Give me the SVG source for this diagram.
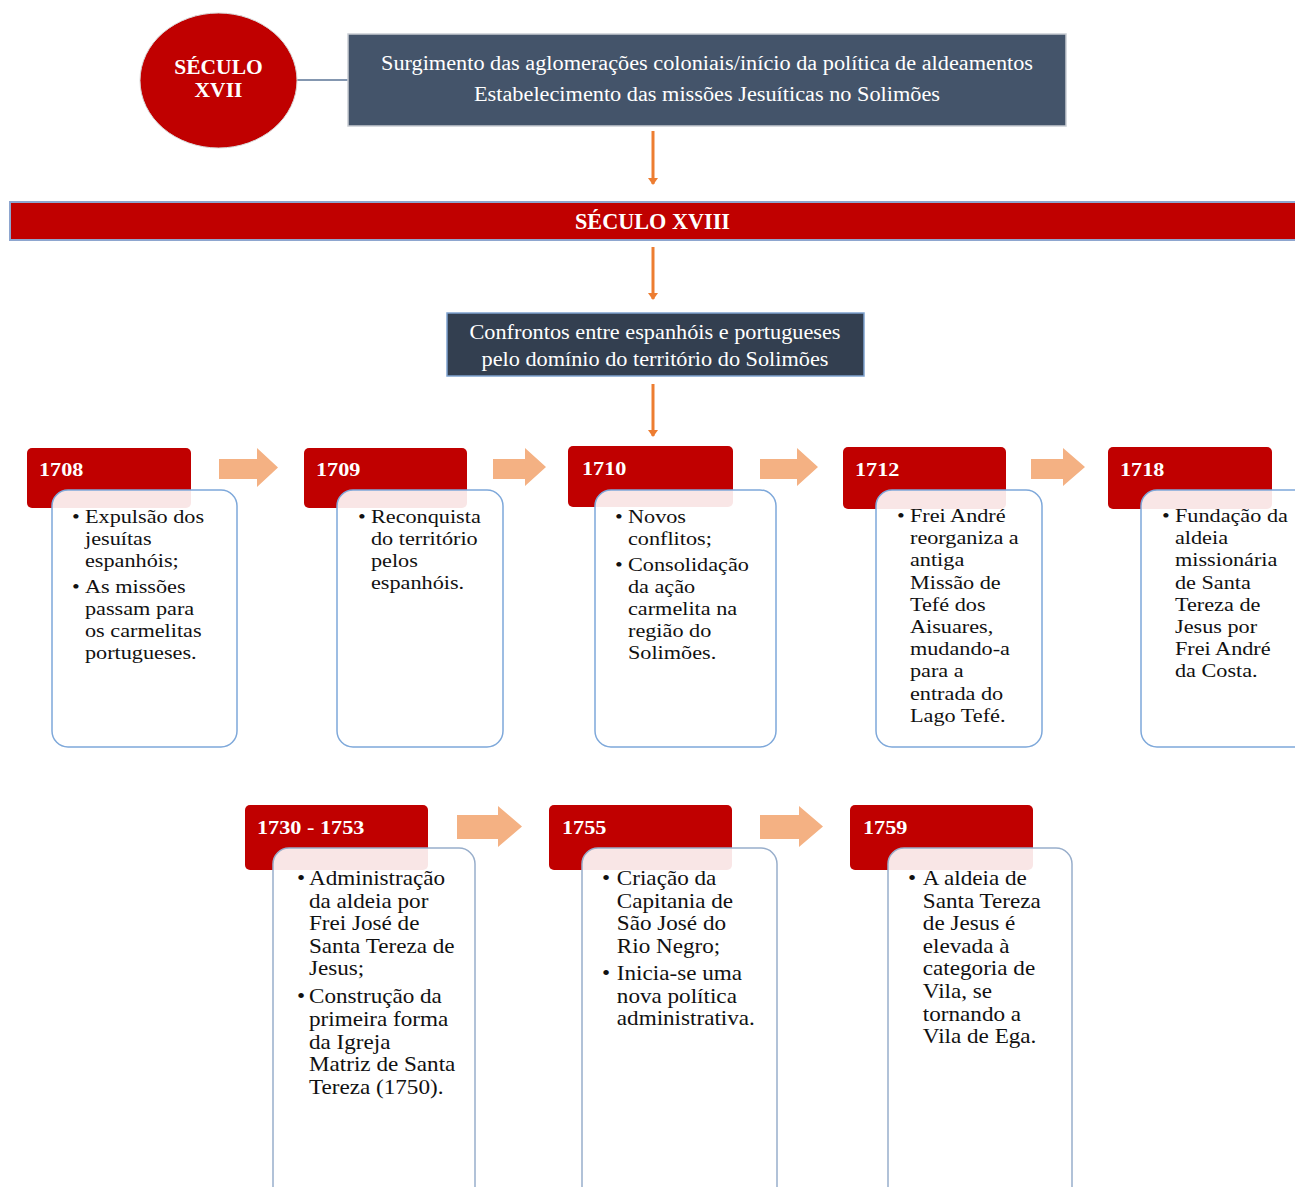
<svg xmlns="http://www.w3.org/2000/svg" width="1295" height="1187" viewBox="0 0 1295 1187">
<style>
.hdr{fill:#C00000}
.card1{fill:#FFFFFF;fill-opacity:0.9;stroke:#7EA8DA;stroke-width:1.5}
.card2{fill:#FFFFFF;fill-opacity:0.9;stroke:#98AECB;stroke-width:1.5}
.yr{font-family:"Liberation Serif","Times New Roman",serif;font-weight:bold;font-size:19.5px;fill:#FFFFFF}
.ct{font-family:"Liberation Serif","Times New Roman",serif;font-size:19.5px;fill:#111111}
.ct2{font-family:"Liberation Serif","Times New Roman",serif;font-size:20.3px;fill:#111111}
.wt{font-family:"Liberation Serif","Times New Roman",serif;fill:#FFFFFF}
.blk{fill:#F4B183}
.oline{stroke:#ED7D31;stroke-width:3;fill:none}
</style>
<defs>
<marker id="oh" markerWidth="10" markerHeight="10" refX="6" refY="5" orient="auto" markerUnits="userSpaceOnUse">
<path d="M0,0 L7,5 L0,10 z" fill="#ED7D31"/>
</marker>
</defs>
<rect width="1295" height="1187" fill="#FFFFFF"/>

<g id="connectors">
<line x1="297" y1="80" x2="348" y2="80" stroke="#8497B0" stroke-width="2"/>
<line class="oline" x1="653" y1="131" x2="653" y2="184" marker-end="url(#oh)"/>
<line class="oline" x1="653" y1="247" x2="653" y2="299" marker-end="url(#oh)"/>
<line class="oline" x1="653" y1="384" x2="653" y2="436" marker-end="url(#oh)"/>
<polygon class="blk" points="219,459 257,459 257,448 278,467.5 257,487 257,479 219,479"/>
<polygon class="blk" points="493,459 525,459 525,448 546,467 525,486 525,479 493,479"/>
<polygon class="blk" points="760,459 797,459 797,448 818,467 797,486 797,479 760,479"/>
<polygon class="blk" points="1031,459 1063,459 1063,448 1085,467 1063,486 1063,479 1031,479"/>
<polygon class="blk" points="457,815 498,815 498,806 522,826.5 498,847 498,839 457,839"/>
<polygon class="blk" points="760,815 799,815 799,806 823,826.5 799,847 799,839 760,839"/>
</g>

<g id="seculo-xvii">
<ellipse cx="218.5" cy="80.5" rx="78.5" ry="67.5" fill="#C00000" stroke="#D9D9D9" stroke-width="1"/>
<text class="wt" x="218.5" y="74" font-size="21.5" font-weight="bold" text-anchor="middle">SÉCULO</text>
<text class="wt" x="218.5" y="97" font-size="21.5" font-weight="bold" text-anchor="middle">XVII</text>
</g>

<g id="surgimento">
<rect x="348" y="34" width="718" height="92" fill="#44546A" stroke="#C9CDD3" stroke-width="1.5"/>
<text class="wt" x="707" y="70" font-size="20.5" text-anchor="middle" textLength="652" lengthAdjust="spacingAndGlyphs">Surgimento das aglomerações coloniais/início da política de aldeamentos</text>
<text class="wt" x="707" y="101" font-size="20.5" text-anchor="middle" textLength="466" lengthAdjust="spacingAndGlyphs">Estabelecimento das missões Jesuíticas no Solimões</text>
</g>

<g id="seculo-xviii">
<rect x="10" y="202" width="1295" height="38" fill="#C00000" stroke="#8EA6CF" stroke-width="2"/>
<text class="wt" x="652.5" y="228.5" font-size="23" font-weight="bold" text-anchor="middle" textLength="155" lengthAdjust="spacingAndGlyphs">SÉCULO XVIII</text>
</g>

<g id="confrontos">
<rect x="447" y="313" width="417" height="63" fill="#333F50" stroke="#7FA3CF" stroke-width="1.5"/>
<text class="wt" x="655" y="339" font-size="21" text-anchor="middle" textLength="371" lengthAdjust="spacingAndGlyphs">Confrontos entre espanhóis e portugueses</text>
<text class="wt" x="655" y="366" font-size="21" text-anchor="middle" textLength="347" lengthAdjust="spacingAndGlyphs">pelo domínio do território do Solimões</text>
</g>

<g id="n1708">
<rect class="hdr" x="27" y="448" width="164" height="60" rx="5"/>
<g transform="translate(39,476) scale(1.14,1)"><text class="yr" x="0" y="0">1708</text></g>
<rect class="card1" x="52" y="490" width="185" height="257" rx="16"/>
<g transform="translate(72,523) scale(1.14,1)"><text class="ct">
<tspan x="0" y="0">•</tspan><tspan x="11.4" y="0">Expulsão dos</tspan>
<tspan x="11.4" y="22">jesuítas</tspan>
<tspan x="11.4" y="44">espanhóis;</tspan>
<tspan x="0" y="70">•</tspan><tspan x="11.4" y="70">As missões</tspan>
<tspan x="11.4" y="92">passam para</tspan>
<tspan x="11.4" y="114">os carmelitas</tspan>
<tspan x="11.4" y="136">portugueses.</tspan>
</text></g>
</g>

<g id="n1709">
<rect class="hdr" x="304" y="448" width="163" height="60" rx="5"/>
<g transform="translate(316,476) scale(1.14,1)"><text class="yr" x="0" y="0">1709</text></g>
<rect class="card1" x="337" y="490" width="166" height="257" rx="16"/>
<g transform="translate(358,523) scale(1.14,1)"><text class="ct">
<tspan x="0" y="0">•</tspan><tspan x="11.4" y="0">Reconquista</tspan>
<tspan x="11.4" y="22">do território</tspan>
<tspan x="11.4" y="44">pelos</tspan>
<tspan x="11.4" y="66">espanhóis.</tspan>
</text></g>
</g>

<g id="n1710">
<rect class="hdr" x="568" y="446" width="165" height="61" rx="5"/>
<g transform="translate(582,475) scale(1.14,1)"><text class="yr" x="0" y="0">1710</text></g>
<rect class="card1" x="595" y="490" width="181" height="257" rx="16"/>
<g transform="translate(615,523) scale(1.14,1)"><text class="ct">
<tspan x="0" y="0">•</tspan><tspan x="11.4" y="0">Novos</tspan>
<tspan x="11.4" y="22">conflitos;</tspan>
<tspan x="0" y="48">•</tspan><tspan x="11.4" y="48">Consolidação</tspan>
<tspan x="11.4" y="70">da ação</tspan>
<tspan x="11.4" y="92">carmelita na</tspan>
<tspan x="11.4" y="114">região do</tspan>
<tspan x="11.4" y="136">Solimões.</tspan>
</text></g>
</g>

<g id="n1712">
<rect class="hdr" x="843" y="447" width="163" height="62" rx="5"/>
<g transform="translate(855,476) scale(1.14,1)"><text class="yr" x="0" y="0">1712</text></g>
<rect class="card1" x="876" y="490" width="166" height="257" rx="16"/>
<g transform="translate(897,522) scale(1.14,1)"><text class="ct">
<tspan x="0" y="0">•</tspan><tspan x="11.4" y="0">Frei André</tspan>
<tspan x="11.4" y="22.2">reorganiza a</tspan>
<tspan x="11.4" y="44.4">antiga</tspan>
<tspan x="11.4" y="66.6">Missão de</tspan>
<tspan x="11.4" y="88.8">Tefé dos</tspan>
<tspan x="11.4" y="111">Aisuares,</tspan>
<tspan x="11.4" y="133.2">mudando-a</tspan>
<tspan x="11.4" y="155.4">para a</tspan>
<tspan x="11.4" y="177.6">entrada do</tspan>
<tspan x="11.4" y="199.8">Lago Tefé.</tspan>
</text></g>
</g>

<g id="n1718">
<rect class="hdr" x="1108" y="447" width="164" height="62" rx="5"/>
<g transform="translate(1120,476) scale(1.14,1)"><text class="yr" x="0" y="0">1718</text></g>
<rect class="card1" x="1141" y="490" width="175" height="257" rx="16"/>
<g transform="translate(1162,522) scale(1.14,1)"><text class="ct">
<tspan x="0" y="0">•</tspan><tspan x="11.4" y="0">Fundação da</tspan>
<tspan x="11.4" y="22.2">aldeia</tspan>
<tspan x="11.4" y="44.4">missionária</tspan>
<tspan x="11.4" y="66.6">de Santa</tspan>
<tspan x="11.4" y="88.8">Tereza de</tspan>
<tspan x="11.4" y="111">Jesus por</tspan>
<tspan x="11.4" y="133.2">Frei André</tspan>
<tspan x="11.4" y="155.4">da Costa.</tspan>
</text></g>
</g>

<g id="n1730">
<rect class="hdr" x="245" y="805" width="183" height="65" rx="5"/>
<g transform="translate(257,834) scale(1.14,1)"><text class="yr" x="0" y="0">1730 - 1753</text></g>
<rect class="card2" x="273" y="848" width="202" height="360" rx="16"/>
<g transform="translate(297,885) scale(1.14,1)"><text class="ct2">
<tspan x="0" y="0">•</tspan><tspan x="10.5" y="0">Administração</tspan>
<tspan x="10.5" y="22.6">da aldeia por</tspan>
<tspan x="10.5" y="45.2">Frei José de</tspan>
<tspan x="10.5" y="67.8">Santa Tereza de</tspan>
<tspan x="10.5" y="90.4">Jesus;</tspan>
<tspan x="0" y="118.4">•</tspan><tspan x="10.5" y="118.4">Construção da</tspan>
<tspan x="10.5" y="141">primeira forma</tspan>
<tspan x="10.5" y="163.6">da Igreja</tspan>
<tspan x="10.5" y="186.2">Matriz de Santa</tspan>
<tspan x="10.5" y="208.8">Tereza (1750).</tspan>
</text></g>
</g>

<g id="n1755">
<rect class="hdr" x="549" y="805" width="183" height="65" rx="5"/>
<g transform="translate(562,834) scale(1.14,1)"><text class="yr" x="0" y="0">1755</text></g>
<rect class="card2" x="582" y="848" width="195" height="360" rx="16"/>
<g transform="translate(602,885) scale(1.14,1)"><text class="ct2">
<tspan x="0" y="0">•</tspan><tspan x="13" y="0">Criação da</tspan>
<tspan x="13" y="22.6">Capitania de</tspan>
<tspan x="13" y="45.2">São José do</tspan>
<tspan x="13" y="67.8">Rio Negro;</tspan>
<tspan x="0" y="95">•</tspan><tspan x="13" y="95">Inicia-se uma</tspan>
<tspan x="13" y="117.6">nova política</tspan>
<tspan x="13" y="140.2">administrativa.</tspan>
</text></g>
</g>

<g id="n1759">
<rect class="hdr" x="850" y="805" width="183" height="65" rx="5"/>
<g transform="translate(863,834) scale(1.14,1)"><text class="yr" x="0" y="0">1759</text></g>
<rect class="card2" x="888" y="848" width="184" height="360" rx="16"/>
<g transform="translate(908,885) scale(1.14,1)"><text class="ct2">
<tspan x="0" y="0">•</tspan><tspan x="13" y="0">A aldeia de</tspan>
<tspan x="13" y="22.6">Santa Tereza</tspan>
<tspan x="13" y="45.2">de Jesus é</tspan>
<tspan x="13" y="67.8">elevada à</tspan>
<tspan x="13" y="90.4">categoria de</tspan>
<tspan x="13" y="113">Vila, se</tspan>
<tspan x="13" y="135.6">tornando a</tspan>
<tspan x="13" y="158.2">Vila de Ega.</tspan>
</text></g>
</g>
</svg>
